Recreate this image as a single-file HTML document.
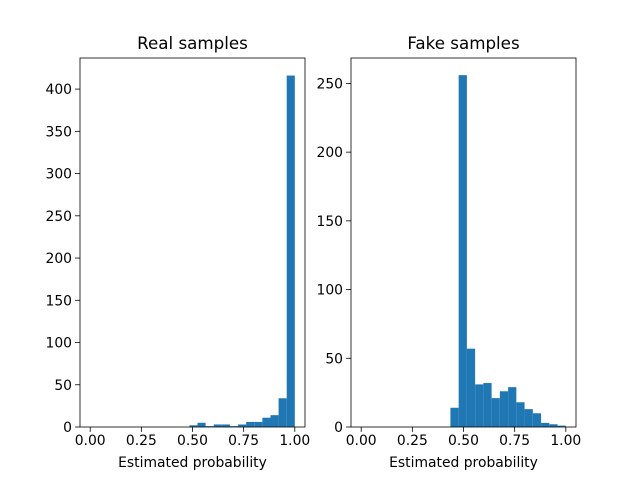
<!DOCTYPE html>
<html><head><meta charset="utf-8"><style>
body{margin:0;background:#fff;}
text{font-family:"DejaVu Sans","Liberation Sans",sans-serif;fill:#000;}
</style></head><body>
<svg id="c" width="640" height="480" xmlns="http://www.w3.org/2000/svg"></svg>
<script>
const realCounts=[2,5,1,3,3,1,3,6,6,11,14,34,416];
const realMin=0.485, realMax=1.0;
const fakeCounts=[14,256,57,31,32,21,26,29,18,13,10,3,2,1];
const fakeMin=0.436, fakeMax=1.0;
const xTicks=[0,0.25,0.5,0.75,1.0];
const xTickLabels=["0.00","0.25","0.50","0.75","1.00"];
const realYTicks=[0,50,100,150,200,250,300,350,400];
const fakeYTicks=[0,50,100,150,200,250];
const titles=["Real samples","Fake samples"];

const NS="http://www.w3.org/2000/svg";
const svg=document.getElementById('c');
function mk(t,a,p){const e=document.createElementNS(NS,t);for(const k in a)e.setAttribute(k,a[k]);(p||svg).appendChild(e);return e;}

function panel(idx,x0,x1,counts,mn,mx,yTicks,yMax){
  const top=58,bot=427;
  const g=mk('g',{});
  
  
  const xs=v=>x0+10.2+v*(x1-x0-20.4)/1.0;
  const ys=v=>bot-v*(bot-top)/yMax;
  const w=(mx-mn)/counts.length;
  counts.forEach((c,i)=>{
    const a=xs(mn+i*w),b=xs(mn+(i+1)*w);
    const r=mk('rect',{x:a,y:ys(c),width:b-a,height:bot-ys(c),fill:'#1f77b4'},g);
    
    
  });
  const f=mk('rect',{x:x0,y:top,width:x1-x0,height:bot-top,fill:'none',stroke:'#000','stroke-width':0.8},g);
  
  xTicks.forEach((v,i)=>{
    const x=xs(v);
    mk('line',{x1:x,x2:x,y1:bot,y2:bot+4.9,stroke:'#000','stroke-width':0.8},g);
    const t=mk('text',{x:x,y:bot+18,'font-size':13.9,'text-anchor':'middle'},g);
    t.textContent=xTickLabels[i];
    
  });
  yTicks.forEach(v=>{
    const y=ys(v);
    mk('line',{x1:x0-4.9,x2:x0,y1:y,y2:y,stroke:'#000','stroke-width':0.8},g);
    const t=mk('text',{x:x0-8,y:y+5,'font-size':13.9,'text-anchor':'end'},g);
    t.textContent=v;
    
  });
  const xl=mk('text',{x:(x0+x1)/2,y:467,'font-size':13.9,'text-anchor':'middle'},g);
  xl.textContent='Estimated probability';
  
  const tt=mk('text',{x:(x0+x1)/2,y:49,'font-size':16.7,'text-anchor':'middle'},g);
  tt.textContent=titles[idx];
  
}
panel(0,80,305,realCounts,realMin,realMax,realYTicks,436.8);
panel(1,351,576,fakeCounts,fakeMin,fakeMax,fakeYTicks,268.5);
</script>
</body></html>
